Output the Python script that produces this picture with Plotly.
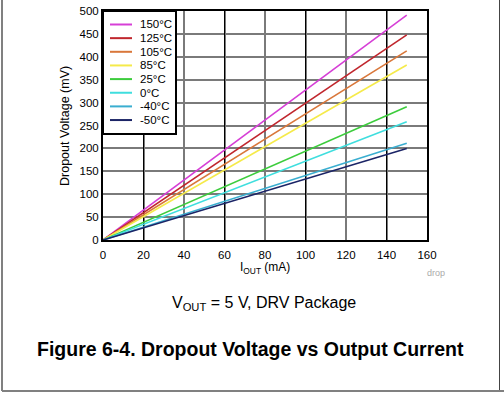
import plotly.graph_objects as go

current_ma = [0, 150]
temps = ["150°C", "125°C", "105°C", "85°C", "25°C", "0°C", "-40°C", "-50°C"]
dropout_mv = {
    "150°C": [0, 491],
    "125°C": [0, 448],
    "105°C": [0, 413],
    "85°C": [0, 382],
    "25°C": [0, 291],
    "0°C": [0, 258],
    "-40°C": [0, 211],
    "-50°C": [0, 200],
}
colors = ["#d63fd6", "#c0262d", "#d9773a", "#f5ea4a", "#3ccc3c", "#3fdede", "#3aaed0", "#1b2466"]

x_ticks = [0, 20, 40, 60, 80, 100, 120, 140, 160]
y_ticks = [0, 50, 100, 150, 200, 250, 300, 350, 400, 450, 500]

fig = go.Figure()
for t, c in zip(temps, colors):
    fig.add_trace(go.Scatter(x=current_ma, y=dropout_mv[t], mode="lines", name=t,
                             line=dict(color=c, width=1.6), showlegend=False))

# black gridlines on an overlaid axis
fig.add_trace(go.Scatter(x=[0, 160], y=[None, None], xaxis="x2", showlegend=False,
                         hoverinfo="skip", mode="lines"))

font = "Liberation Sans, Arial, sans-serif"
W, H = 504, 394
PL, PR, PT, PB = 103, 427, 11, 240   # plot area in pixels


def px(p):
    return p / W


def py(p):
    return (H - p) / H


fig.update_layout(
    width=W, height=H,
    margin=dict(l=0, r=0, t=0, b=0, autoexpand=False),
    paper_bgcolor="white", plot_bgcolor="white",
    font=dict(family=font, size=11.5, color="black"),
    xaxis=dict(domain=[px(PL), px(PR)], range=[0, 160], tickvals=x_ticks, showgrid=True,
               gridcolor="#7a7a7a", gridwidth=1.5, zeroline=False, showline=True,
               linecolor="black", linewidth=2, mirror=True, ticks="outside", ticklen=3,
               tickcolor="rgba(0,0,0,0)", fixedrange=True, automargin=False),
    xaxis2=dict(domain=[px(PL), px(PR)], range=[0, 160], overlaying="x", tick0=20, dtick=40,
                showgrid=True, gridcolor="black", gridwidth=1.3, showticklabels=False,
                zeroline=False, ticks="", anchor="y"),
    yaxis=dict(domain=[py(PB), py(PT)], range=[0, 500], tickvals=y_ticks, showgrid=True,
               gridcolor="#7a7a7a", gridwidth=1.5, zeroline=False, showline=True,
               linecolor="black", linewidth=2, mirror=True, ticks="", fixedrange=True,
               automargin=False),
    showlegend=False,
)

# manual legend (compact spacing like the reference)
fig.add_shape(type="rect", xref="paper", yref="paper", x0=px(103), x1=px(176),
              y0=py(134), y1=py(11), fillcolor="white", line=dict(color="black", width=2),
              layer="above")
for i, (t, c) in enumerate(zip(temps, colors)):
    yy = 24.5 + i * 13.65
    fig.add_shape(type="line", xref="paper", yref="paper", x0=px(110), x1=px(132),
                  y0=py(yy), y1=py(yy), line=dict(color=c, width=2), layer="above")
    fig.add_annotation(text=t, xref="paper", yref="paper", x=px(137.5), y=py(yy),
                       xanchor="left", yanchor="middle", showarrow=False,
                       font=dict(size=11.5))


def label(text, x, y, size, color="black", angle=0):
    fig.add_annotation(text=text, xref="paper", yref="paper", x=px(x), y=py(y),
                       xanchor="center", yanchor="middle", showarrow=False,
                       textangle=angle, font=dict(size=size, color=color))


label("Dropout Voltage (mV)", 65, 126, 12.5, angle=-90)
label("I<sub>OUT</sub> (mA)", 265, 268, 12)
label("drop", 436, 273, 9, color="#aaaaaa")
label("V<sub>OUT</sub> = 5 V, DRV Package", 264, 303, 16)
label("<b>Figure 6-4. Dropout Voltage vs Output Current</b>", 250, 349, 19.5)

# page frame
fig.add_shape(type="line", xref="paper", yref="paper", x0=px(2), x1=px(2),
              y0=py(-5), y1=py(391), line=dict(color="#808080", width=2))
fig.add_shape(type="line", xref="paper", yref="paper", x0=px(499.5), x1=px(499.5),
              y0=py(-5), y1=py(391), line=dict(color="#444444", width=1))
fig.add_shape(type="line", xref="paper", yref="paper", x0=px(2), x1=px(504),
              y0=py(391), y1=py(391), line=dict(color="#808080", width=2))

fig.write_html("out.html",
               config={"displayModeBar": False},
               post_script="document.body.style.margin='0';document.body.style.overflow='hidden';")
